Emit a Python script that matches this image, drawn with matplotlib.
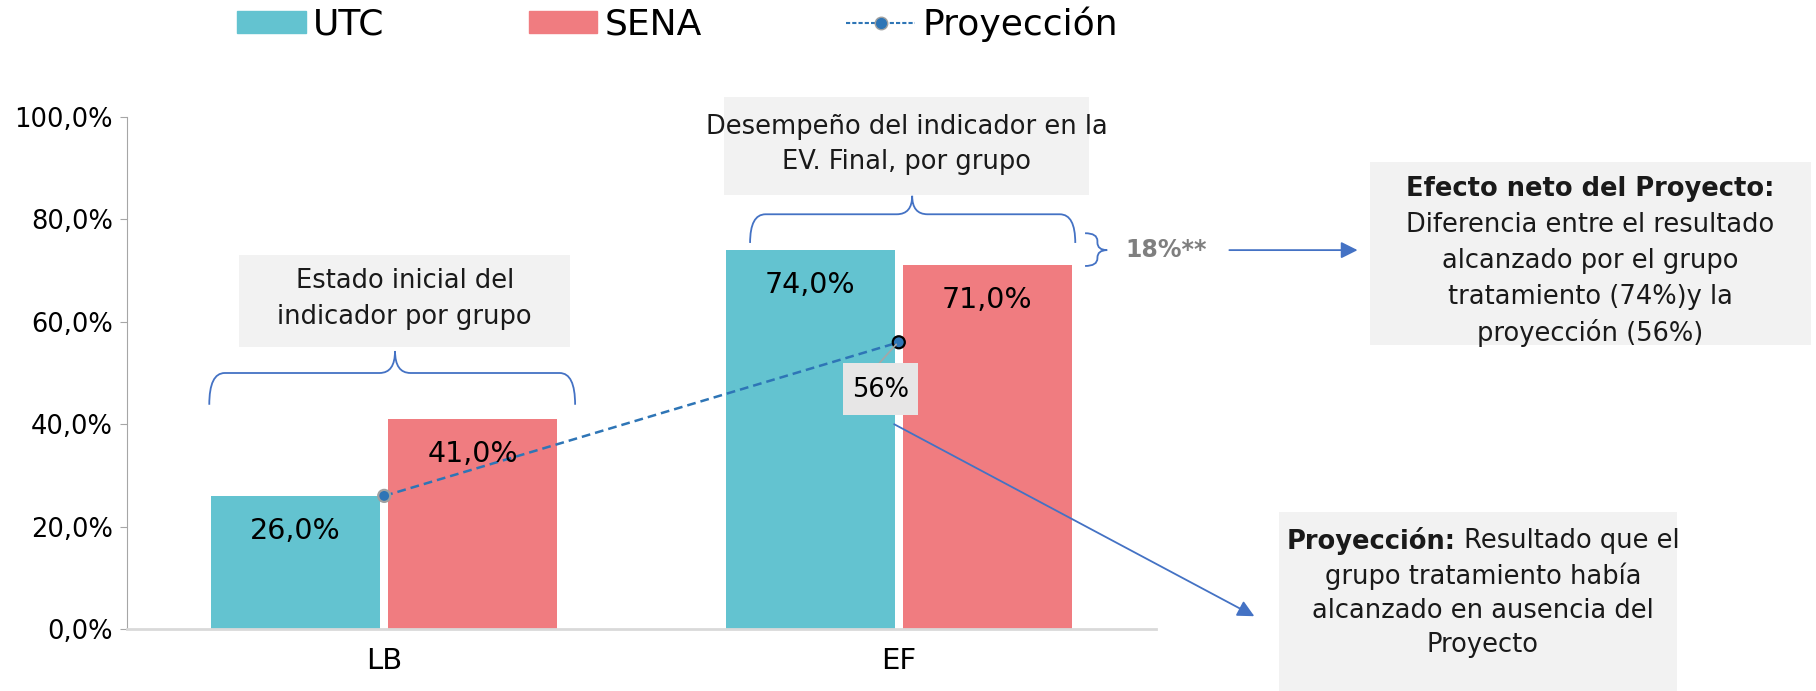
import numpy as np
import matplotlib
matplotlib.use('Agg')
import matplotlib.pyplot as plt
from matplotlib.patches import Rectangle, PathPatch, Patch
from matplotlib.path import Path
from matplotlib.lines import Line2D
from matplotlib.ticker import FuncFormatter

# datos
categorias = ['LB', 'EF']
utc = [26.0, 74.0]
sena = [41.0, 71.0]
proyeccion = [26.0, 56.0]
yticks = [0, 20, 40, 60, 80, 100]

c_utc = '#63C3D0'
c_sena = '#F07C80'
c_proy = '#2E75B6'
c_azul = '#4472C4'
c_caja = '#F2F2F2'

plt.rcParams['font.family'] = ['DejaVu Sans']
FS_CAJA = 18.5


def pct(v):
    return f'{v:.1f}'.replace('.', ',') + '%'


fig = plt.figure(figsize=(18.16, 6.91), dpi=100)
ax = fig.add_axes([0.0699, 0.0897, 0.5667, 0.741])

x = np.arange(len(categorias))
w, off = 0.328, 0.172
b1 = ax.bar(x - off, utc, w, color=c_utc, zorder=2)
b2 = ax.bar(x + off, sena, w, color=c_sena, zorder=2)

for bars, vals in [(b1, utc), (b2, sena)]:
    for b, v in zip(bars, vals):
        ax.annotate(pct(v), (b.get_x() + b.get_width() / 2, v), xytext=(0, -25),
                    textcoords='offset points', ha='center', va='center',
                    fontsize=20.5, zorder=6)

# proyeccion
ax.plot(x, proyeccion, ls=(0, (3.5, 2)), color=c_proy, lw=1.8, zorder=4)
ax.scatter(x, proyeccion, s=75, c=c_proy, edgecolors=['#A0A0A0', 'black'],
           linewidths=1.6, zorder=5)

# ejes
ax.set_xlim(-0.5, 1.5)
ax.set_ylim(0, 100)
ax.set_yticks(yticks)
ax.yaxis.set_major_formatter(FuncFormatter(lambda v, p: pct(v)))
ax.set_xticks(x)
ax.set_xticklabels(categorias)
ax.tick_params(axis='x', length=0, labelsize=21, pad=13)
ax.tick_params(axis='y', length=5, color='#A6A6A6', labelsize=18.5, pad=5)
for s in ['top', 'right']:
    ax.spines[s].set_visible(False)
ax.spines['left'].set_color('#A6A6A6')
ax.spines['bottom'].set_color('#D9D9D9')
ax.spines['bottom'].set_linewidth(2)


def caja(x0, y0, x1, y1, color=c_caja, z=1):
    ax.add_patch(Rectangle((x0, y0), x1 - x0, y1 - y0, fc=color, ec='none',
                           clip_on=False, zorder=z))


def llave_h(x0, x1, xc, y_end, y_mid, y_tip, r=0.03):
    verts = [(x0, y_end), (x0, y_mid), (x0 + r, y_mid),
             (xc - r, y_mid), (xc, y_mid), (xc, y_tip),
             (xc, y_mid), (xc + r, y_mid),
             (x1 - r, y_mid), (x1, y_mid), (x1, y_end)]
    codes = [Path.MOVETO, Path.CURVE3, Path.CURVE3,
             Path.LINETO, Path.CURVE3, Path.CURVE3,
             Path.CURVE3, Path.CURVE3,
             Path.LINETO, Path.CURVE3, Path.CURVE3]
    ax.add_patch(PathPatch(Path(verts, codes), fc='none', ec=c_azul, lw=1.3,
                           clip_on=False, zorder=3))


def llave_v(x0, xm, xt, y0, y1, yt, r=1.2):
    verts = [(x0, y0), (xm, y0), (xm, y0 - r),
             (xm, yt + r), (xm, yt), (xt, yt),
             (xm, yt), (xm, yt - r),
             (xm, y1 + r), (xm, y1), (x0, y1)]
    codes = [Path.MOVETO, Path.CURVE3, Path.CURVE3,
             Path.LINETO, Path.CURVE3, Path.CURVE3,
             Path.CURVE3, Path.CURVE3,
             Path.LINETO, Path.CURVE3, Path.CURVE3]
    ax.add_patch(PathPatch(Path(verts, codes), fc='none', ec=c_azul, lw=1.3,
                           clip_on=False, zorder=3))


def lineas(cx, ys, textos, fs=FS_CAJA, bold_first=False):
    for i, (yy, t) in enumerate(zip(ys, textos)):
        ax.text(cx, yy, t, ha='center', va='center', fontsize=fs, color='#1A1A1A',
                fontweight='bold' if (bold_first and i == 0) else 'normal',
                clip_on=False, zorder=7)


# Estado inicial
caja(-0.282, 55.1, 0.3615, 73.0)
lineas(0.040, [68.0, 60.9], ['Estado inicial del', 'indicador por grupo'])
llave_h(-0.340, 0.371, 0.021, 43.8, 50.0, 54.3)

# Desempeño EF
caja(0.661, 84.8, 1.370, 103.9)
lineas(1.015, [98.0, 91.2], ['Desempeño del indicador en la', 'EV. Final, por grupo'])
llave_h(0.711, 1.343, 1.026, 75.4, 81.0, 84.6)

# 18%
llave_v(1.362, 1.386, 1.405, 77.3, 70.9, 74.0, r=1.5)
ax.text(1.52, 74.0, '18%**', ha='center', va='center', fontsize=17,
        fontweight='bold', color='#7F7F7F', clip_on=False)
ax.annotate('', xy=(1.897, 74.0), xytext=(1.637, 74.0), annotation_clip=False,
            arrowprops=dict(arrowstyle='-|>', color=c_azul, lw=1.3, mutation_scale=25))

# Efecto neto
caja(1.916, 55.5, 2.772, 91.2)
lineas(2.344, [85.9, 78.9, 71.9, 64.9, 57.9],
       ['Efecto neto del Proyecto:', 'Diferencia entre el resultado',
        'alcanzado por el grupo', 'tratamiento (74%)y la', 'proyección (56%)'],
       bold_first=True)

# 56% etiqueta
ax.annotate('', xy=(0.995, 55.6), xytext=(0.962, 51.9), annotation_clip=False,
            arrowprops=dict(arrowstyle='-', color='#A6A6A6', lw=1.2, shrinkA=0, shrinkB=0),
            zorder=5)
caja(0.892, 41.8, 1.038, 51.9, color='#E7E6E6', z=6)
ax.text(0.965, 46.6, '56%', ha='center', va='center', fontsize=18.5, zorder=7)
ax.annotate('', xy=(1.691, 2.5), xytext=(0.991, 40.0), annotation_clip=False,
            arrowprops=dict(arrowstyle='-|>', color=c_azul, lw=1.3, mutation_scale=25,
                            shrinkA=0, shrinkB=0), zorder=5)

# Proyeccion caja
caja(1.738, -12.2, 2.513, 22.85)
cx = 2.135
ys = [17.2, 10.4, 3.6, -3.2]
t_b = ax.text(cx, ys[0], 'Proyección:', fontweight='bold', ha='left', va='center',
              fontsize=FS_CAJA, color='#1A1A1A', clip_on=False, zorder=7)
t_r = ax.text(cx, ys[0], ' Resultado que el', ha='left', va='center',
              fontsize=FS_CAJA, color='#1A1A1A', clip_on=False, zorder=7)
lineas(cx, ys[1:], ['grupo tratamiento había', 'alcanzado en ausencia del', 'Proyecto'])

fig.canvas.draw()
r = fig.canvas.get_renderer()
wb = t_b.get_window_extent(r).width
wr = t_r.get_window_extent(r).width
inv = ax.transData.inverted()
px = ax.transData.transform((cx, 0))[0] - (wb + wr) / 2
t_b.set_x(inv.transform((px, 0))[0])
t_r.set_x(inv.transform((px + wb, 0))[0])

# leyenda
handles = [Patch(color=c_utc), Patch(color=c_sena),
           Line2D([], [], color=c_proy, ls=(0, (2, 1)), lw=1.5, marker='o', markersize=9,
                  markerfacecolor=c_proy, markeredgecolor='#A0A0A0')]
fig.legend(handles, ['UTC', 'SENA', 'Proyección'], loc='center left',
           bbox_to_anchor=(237 / 1816, 1 - 24 / 691), ncol=3, frameon=False,
           fontsize=26, handlelength=1.9, handleheight=0.57, handletextpad=0.2,
           columnspacing=4.0, borderpad=0, borderaxespad=0)

fig.savefig('out.png', dpi=100)
